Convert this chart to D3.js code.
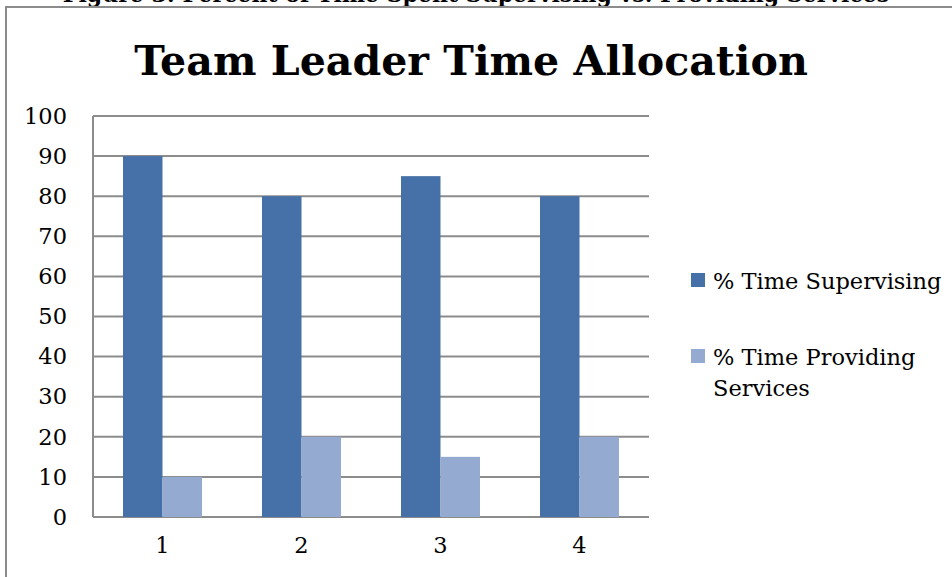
<!DOCTYPE html>
<html lang="en">
<head>
<meta charset="UTF-8">
<title>Team Leader Time Allocation</title>
<style>
  body { margin: 0; background: #fff; }
  svg { display: block; font-family: "DejaVu Serif", "Liberation Serif", serif; }
  .grid line { stroke: #8c8c8c; stroke-width: 2; }
  .axis text { font-size: 22.5px; fill: #000; font-family: "DejaVu Serif", serif; }
</style>
</head>
<body>
<svg id="chart" width="952" height="577"></svg>
<script src="https://d3js.org/d3.v7.min.js"></script>
<script>
// data
const categories = ['1', '2', '3', '4'];
const supervising = [90, 80, 85, 80];
const providing = [10, 20, 15, 20];
const seriesNames = ['% Time Supervising', '% Time Providing Services'];
const seriesColors = ['#4571a8', '#94aad0'];
const yTicks = [0, 10, 20, 30, 40, 50, 60, 70, 80, 90, 100];

const svg = d3.select('#chart');
const plot = { left: 93, right: 649, top: 116, bottom: 517 };

// shrink/grow a text so it spans the given width
function fitWidth(sel, w) {
  const node = sel.node();
  const fs = parseFloat(sel.style('font-size'));
  sel.style('font-size', (fs * w / node.getComputedTextLength()) + 'px');
}

// caption from the page above, cut off by the crop (as in the source)
svg.append('text')
  .attr('x', 476).attr('y', 2)
  .attr('text-anchor', 'middle')
  .style('font-size', '22px').style('font-weight', 'bold')
  .text('Figure 3: Percent of Time Spent Supervising vs. Providing Services');

// chart frame
svg.append('rect')
  .attr('x', 6).attr('y', 7)
  .attr('width', 960).attr('height', 600)
  .attr('fill', 'none').attr('stroke', '#8c8c8c').attr('stroke-width', 2);

const title = svg.append('text')
  .attr('x', 471).attr('y', 75)
  .attr('text-anchor', 'middle')
  .style('font-size', '38px').style('font-weight', 'bold')
  .text('Team Leader Time Allocation');
fitWidth(title, 674);

const y = d3.scaleLinear().domain([0, 100]).range([plot.bottom, plot.top]);
const x = d3.scaleBand().domain(categories).range([plot.left, plot.right]);
const barW = 39.5;

// gridlines
svg.append('g').attr('class', 'grid')
  .selectAll('line').data(yTicks).join('line')
  .attr('x1', plot.left).attr('x2', plot.right)
  .attr('y1', d => y(d)).attr('y2', d => y(d));

svg.append('line')
  .attr('x1', plot.left).attr('x2', plot.left)
  .attr('y1', plot.top).attr('y2', plot.bottom)
  .attr('stroke', '#8c8c8c').attr('stroke-width', 2);

// bars
const rows = categories.map((c, i) => ({ cat: c, vals: [supervising[i], providing[i]] }));
const groups = svg.append('g').selectAll('g').data(rows).join('g');
groups.selectAll('rect')
  .data(d => d.vals.map((v, j) => ({ cat: d.cat, v, j })))
  .join('rect')
  .attr('x', d => x(d.cat) + x.bandwidth() / 2 - barW + d.j * barW)
  .attr('y', d => y(d.v))
  .attr('width', barW)
  .attr('height', d => y(0) - y(d.v))
  .attr('fill', d => seriesColors[d.j]);

// y axis labels
const yAxis = d3.axisLeft(y).tickValues(yTicks).tickSize(0).tickPadding(26);
svg.append('g').attr('class', 'axis')
  .attr('transform', `translate(${plot.left},0)`)
  .call(yAxis)
  .attr('font-family', null).attr('font-size', null)
  .call(g => g.select('.domain').remove());

// x axis labels
const xAxis = d3.axisBottom(x).tickSize(0).tickPadding(20);
svg.append('g').attr('class', 'axis')
  .attr('transform', `translate(0,${plot.bottom})`)
  .call(xAxis)
  .attr('font-family', null).attr('font-size', null)
  .call(g => g.select('.domain').remove());

// legend
const legend = svg.append('g').attr('transform', 'translate(691,273)');
const items = legend.selectAll('g').data(seriesNames).join('g')
  .attr('transform', (d, i) => `translate(0,${i * 76})`);
items.append('rect')
  .attr('width', 14).attr('height', 14)
  .attr('fill', (d, i) => seriesColors[i]);
items.append('text')
  .attr('x', 22).attr('y', 16)
  .style('font-size', '22.5px')
  .each(function(d) {
    const t = d3.select(this);
    const lines = d === seriesNames[1] ? ['% Time Providing', 'Services'] : [d];
    lines.forEach((l, k) => t.append('tspan').attr('x', 22).attr('dy', k ? 31 : 0).text(l));
  });
</script>
</body>
</html>
